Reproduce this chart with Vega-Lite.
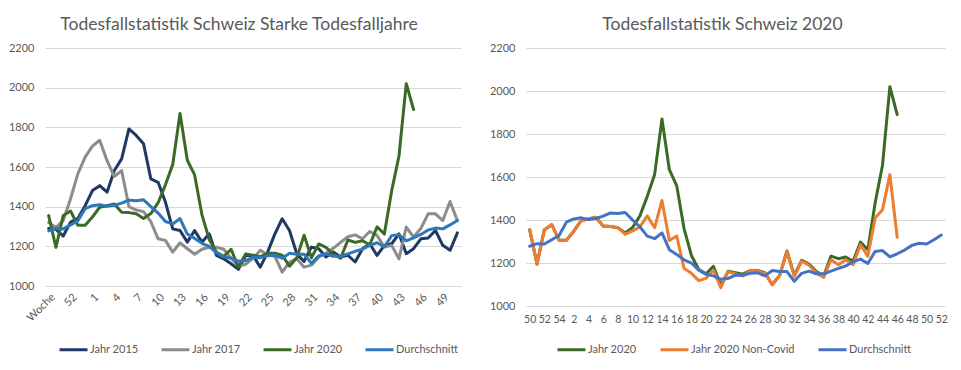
{
"$schema": "https://vega.github.io/schema/vega-lite/v6.json",
"padding": {"left": 8, "top": 15, "right": 0, "bottom": 0},
"background": "white",
"datasets": {"d": [
{"i":0,"s":"Jahr 2015","v":1290},{"i":1,"s":"Jahr 2015","v":1285},{"i":2,"s":"Jahr 2015","v":1252},{"i":3,"s":"Jahr 2015","v":1322},{"i":4,"s":"Jahr 2015","v":1340},{"i":5,"s":"Jahr 2015","v":1405},{"i":6,"s":"Jahr 2015","v":1481},{"i":7,"s":"Jahr 2015","v":1506},{"i":8,"s":"Jahr 2015","v":1473},{"i":9,"s":"Jahr 2015","v":1582},
{"i":10,"s":"Jahr 2015","v":1641},{"i":11,"s":"Jahr 2015","v":1792},{"i":12,"s":"Jahr 2015","v":1759},{"i":13,"s":"Jahr 2015","v":1717},{"i":14,"s":"Jahr 2015","v":1540},{"i":15,"s":"Jahr 2015","v":1523},{"i":16,"s":"Jahr 2015","v":1423},{"i":17,"s":"Jahr 2015","v":1288},{"i":18,"s":"Jahr 2015","v":1280},{"i":19,"s":"Jahr 2015","v":1221},
{"i":20,"s":"Jahr 2015","v":1280},{"i":21,"s":"Jahr 2015","v":1221},{"i":22,"s":"Jahr 2015","v":1263},{"i":23,"s":"Jahr 2015","v":1154},{"i":24,"s":"Jahr 2015","v":1137},{"i":25,"s":"Jahr 2015","v":1112},{"i":26,"s":"Jahr 2015","v":1084},{"i":27,"s":"Jahr 2015","v":1154},{"i":28,"s":"Jahr 2015","v":1154},{"i":29,"s":"Jahr 2015","v":1095},
{"i":30,"s":"Jahr 2015","v":1171},{"i":31,"s":"Jahr 2015","v":1263},{"i":32,"s":"Jahr 2015","v":1339},{"i":33,"s":"Jahr 2015","v":1280},{"i":34,"s":"Jahr 2015","v":1162},{"i":35,"s":"Jahr 2015","v":1124},{"i":36,"s":"Jahr 2015","v":1196},{"i":37,"s":"Jahr 2015","v":1188},{"i":38,"s":"Jahr 2015","v":1146},{"i":39,"s":"Jahr 2015","v":1171},
{"i":40,"s":"Jahr 2015","v":1146},{"i":41,"s":"Jahr 2015","v":1155},{"i":42,"s":"Jahr 2015","v":1121},{"i":43,"s":"Jahr 2015","v":1188},{"i":44,"s":"Jahr 2015","v":1213},{"i":45,"s":"Jahr 2015","v":1154},{"i":46,"s":"Jahr 2015","v":1205},{"i":47,"s":"Jahr 2015","v":1213},{"i":48,"s":"Jahr 2015","v":1263},{"i":49,"s":"Jahr 2015","v":1163},
{"i":50,"s":"Jahr 2015","v":1188},{"i":51,"s":"Jahr 2015","v":1238},{"i":52,"s":"Jahr 2015","v":1242},{"i":53,"s":"Jahr 2015","v":1280},{"i":54,"s":"Jahr 2015","v":1205},{"i":55,"s":"Jahr 2015","v":1180},{"i":56,"s":"Jahr 2015","v":1268},
{"i":0,"s":"Jahr 2017","v":1320},{"i":1,"s":"Jahr 2017","v":1295},{"i":2,"s":"Jahr 2017","v":1330},{"i":3,"s":"Jahr 2017","v":1440},{"i":4,"s":"Jahr 2017","v":1565},{"i":5,"s":"Jahr 2017","v":1650},{"i":6,"s":"Jahr 2017","v":1705},{"i":7,"s":"Jahr 2017","v":1735},{"i":8,"s":"Jahr 2017","v":1632},{"i":9,"s":"Jahr 2017","v":1552},
{"i":10,"s":"Jahr 2017","v":1582},{"i":11,"s":"Jahr 2017","v":1400},{"i":12,"s":"Jahr 2017","v":1383},{"i":13,"s":"Jahr 2017","v":1375},{"i":14,"s":"Jahr 2017","v":1325},{"i":15,"s":"Jahr 2017","v":1238},{"i":16,"s":"Jahr 2017","v":1230},{"i":17,"s":"Jahr 2017","v":1171},{"i":18,"s":"Jahr 2017","v":1218},{"i":19,"s":"Jahr 2017","v":1188},
{"i":20,"s":"Jahr 2017","v":1160},{"i":21,"s":"Jahr 2017","v":1185},{"i":22,"s":"Jahr 2017","v":1195},{"i":23,"s":"Jahr 2017","v":1195},{"i":24,"s":"Jahr 2017","v":1185},{"i":25,"s":"Jahr 2017","v":1140},{"i":26,"s":"Jahr 2017","v":1100},{"i":27,"s":"Jahr 2017","v":1110},{"i":28,"s":"Jahr 2017","v":1140},{"i":29,"s":"Jahr 2017","v":1180},
{"i":30,"s":"Jahr 2017","v":1158},{"i":31,"s":"Jahr 2017","v":1150},{"i":32,"s":"Jahr 2017","v":1070},{"i":33,"s":"Jahr 2017","v":1120},{"i":34,"s":"Jahr 2017","v":1138},{"i":35,"s":"Jahr 2017","v":1095},{"i":36,"s":"Jahr 2017","v":1105},{"i":37,"s":"Jahr 2017","v":1145},{"i":38,"s":"Jahr 2017","v":1165},{"i":39,"s":"Jahr 2017","v":1190},
{"i":40,"s":"Jahr 2017","v":1220},{"i":41,"s":"Jahr 2017","v":1248},{"i":42,"s":"Jahr 2017","v":1258},{"i":43,"s":"Jahr 2017","v":1238},{"i":44,"s":"Jahr 2017","v":1275},{"i":45,"s":"Jahr 2017","v":1255},{"i":46,"s":"Jahr 2017","v":1196},{"i":47,"s":"Jahr 2017","v":1205},{"i":48,"s":"Jahr 2017","v":1137},{"i":49,"s":"Jahr 2017","v":1297},
{"i":50,"s":"Jahr 2017","v":1247},{"i":51,"s":"Jahr 2017","v":1290},{"i":52,"s":"Jahr 2017","v":1364},{"i":53,"s":"Jahr 2017","v":1364},{"i":54,"s":"Jahr 2017","v":1330},{"i":55,"s":"Jahr 2017","v":1426},{"i":56,"s":"Jahr 2017","v":1330},
{"i":0,"s":"Jahr 2020","v":1355},{"i":1,"s":"Jahr 2020","v":1195},{"i":2,"s":"Jahr 2020","v":1355},{"i":3,"s":"Jahr 2020","v":1378},{"i":4,"s":"Jahr 2020","v":1306},{"i":5,"s":"Jahr 2020","v":1306},{"i":6,"s":"Jahr 2020","v":1348},{"i":7,"s":"Jahr 2020","v":1397},{"i":8,"s":"Jahr 2020","v":1405},{"i":9,"s":"Jahr 2020","v":1413},
{"i":10,"s":"Jahr 2020","v":1372},{"i":11,"s":"Jahr 2020","v":1370},{"i":12,"s":"Jahr 2020","v":1364},{"i":13,"s":"Jahr 2020","v":1340},{"i":14,"s":"Jahr 2020","v":1365},{"i":15,"s":"Jahr 2020","v":1420},{"i":16,"s":"Jahr 2020","v":1510},{"i":17,"s":"Jahr 2020","v":1612},{"i":18,"s":"Jahr 2020","v":1870},{"i":19,"s":"Jahr 2020","v":1634},
{"i":20,"s":"Jahr 2020","v":1560},{"i":21,"s":"Jahr 2020","v":1360},{"i":22,"s":"Jahr 2020","v":1235},{"i":23,"s":"Jahr 2020","v":1170},{"i":24,"s":"Jahr 2020","v":1150},{"i":25,"s":"Jahr 2020","v":1185},{"i":26,"s":"Jahr 2020","v":1095},{"i":27,"s":"Jahr 2020","v":1162},{"i":28,"s":"Jahr 2020","v":1155},{"i":29,"s":"Jahr 2020","v":1148},
{"i":30,"s":"Jahr 2020","v":1165},{"i":31,"s":"Jahr 2020","v":1165},{"i":32,"s":"Jahr 2020","v":1155},{"i":33,"s":"Jahr 2020","v":1100},{"i":34,"s":"Jahr 2020","v":1142},{"i":35,"s":"Jahr 2020","v":1256},{"i":36,"s":"Jahr 2020","v":1142},{"i":37,"s":"Jahr 2020","v":1212},{"i":38,"s":"Jahr 2020","v":1195},{"i":39,"s":"Jahr 2020","v":1160},
{"i":40,"s":"Jahr 2020","v":1140},{"i":41,"s":"Jahr 2020","v":1232},{"i":42,"s":"Jahr 2020","v":1220},{"i":43,"s":"Jahr 2020","v":1228},{"i":44,"s":"Jahr 2020","v":1208},{"i":45,"s":"Jahr 2020","v":1298},{"i":46,"s":"Jahr 2020","v":1262},{"i":47,"s":"Jahr 2020","v":1480},{"i":48,"s":"Jahr 2020","v":1655},{"i":49,"s":"Jahr 2020","v":2020},
{"i":50,"s":"Jahr 2020","v":1890},
{"i":0,"s":"Jahr 2020 Non-Covid","v":1355},{"i":1,"s":"Jahr 2020 Non-Covid","v":1195},{"i":2,"s":"Jahr 2020 Non-Covid","v":1355},{"i":3,"s":"Jahr 2020 Non-Covid","v":1378},{"i":4,"s":"Jahr 2020 Non-Covid","v":1306},{"i":5,"s":"Jahr 2020 Non-Covid","v":1306},{"i":6,"s":"Jahr 2020 Non-Covid","v":1348},{"i":7,"s":"Jahr 2020 Non-Covid","v":1397},{"i":8,"s":"Jahr 2020 Non-Covid","v":1405},{"i":9,"s":"Jahr 2020 Non-Covid","v":1413},
{"i":10,"s":"Jahr 2020 Non-Covid","v":1372},{"i":11,"s":"Jahr 2020 Non-Covid","v":1370},{"i":12,"s":"Jahr 2020 Non-Covid","v":1364},{"i":13,"s":"Jahr 2020 Non-Covid","v":1333},{"i":14,"s":"Jahr 2020 Non-Covid","v":1349},{"i":15,"s":"Jahr 2020 Non-Covid","v":1368},{"i":16,"s":"Jahr 2020 Non-Covid","v":1419},{"i":17,"s":"Jahr 2020 Non-Covid","v":1364},{"i":18,"s":"Jahr 2020 Non-Covid","v":1491},{"i":19,"s":"Jahr 2020 Non-Covid","v":1305},
{"i":20,"s":"Jahr 2020 Non-Covid","v":1326},{"i":21,"s":"Jahr 2020 Non-Covid","v":1175},{"i":22,"s":"Jahr 2020 Non-Covid","v":1152},{"i":23,"s":"Jahr 2020 Non-Covid","v":1118},{"i":24,"s":"Jahr 2020 Non-Covid","v":1129},{"i":25,"s":"Jahr 2020 Non-Covid","v":1167},{"i":26,"s":"Jahr 2020 Non-Covid","v":1085},{"i":27,"s":"Jahr 2020 Non-Covid","v":1160},{"i":28,"s":"Jahr 2020 Non-Covid","v":1149},{"i":29,"s":"Jahr 2020 Non-Covid","v":1140},
{"i":30,"s":"Jahr 2020 Non-Covid","v":1164},{"i":31,"s":"Jahr 2020 Non-Covid","v":1164},{"i":32,"s":"Jahr 2020 Non-Covid","v":1152},{"i":33,"s":"Jahr 2020 Non-Covid","v":1098},{"i":34,"s":"Jahr 2020 Non-Covid","v":1140},{"i":35,"s":"Jahr 2020 Non-Covid","v":1253},{"i":36,"s":"Jahr 2020 Non-Covid","v":1138},{"i":37,"s":"Jahr 2020 Non-Covid","v":1208},{"i":38,"s":"Jahr 2020 Non-Covid","v":1190},{"i":39,"s":"Jahr 2020 Non-Covid","v":1153},
{"i":40,"s":"Jahr 2020 Non-Covid","v":1133},{"i":41,"s":"Jahr 2020 Non-Covid","v":1215},{"i":42,"s":"Jahr 2020 Non-Covid","v":1192},{"i":43,"s":"Jahr 2020 Non-Covid","v":1215},{"i":44,"s":"Jahr 2020 Non-Covid","v":1192},{"i":45,"s":"Jahr 2020 Non-Covid","v":1285},{"i":46,"s":"Jahr 2020 Non-Covid","v":1231},{"i":47,"s":"Jahr 2020 Non-Covid","v":1409},{"i":48,"s":"Jahr 2020 Non-Covid","v":1448},{"i":49,"s":"Jahr 2020 Non-Covid","v":1611},
{"i":50,"s":"Jahr 2020 Non-Covid","v":1320},
{"i":0,"s":"Durchschnitt","v":1278},{"i":1,"s":"Durchschnitt","v":1290},{"i":2,"s":"Durchschnitt","v":1288},{"i":3,"s":"Durchschnitt","v":1308},{"i":4,"s":"Durchschnitt","v":1328},{"i":5,"s":"Durchschnitt","v":1390},{"i":6,"s":"Durchschnitt","v":1405},{"i":7,"s":"Durchschnitt","v":1410},{"i":8,"s":"Durchschnitt","v":1402},{"i":9,"s":"Durchschnitt","v":1407},
{"i":10,"s":"Durchschnitt","v":1418},{"i":11,"s":"Durchschnitt","v":1433},{"i":12,"s":"Durchschnitt","v":1430},{"i":13,"s":"Durchschnitt","v":1435},{"i":14,"s":"Durchschnitt","v":1400},{"i":15,"s":"Durchschnitt","v":1368},{"i":16,"s":"Durchschnitt","v":1325},{"i":17,"s":"Durchschnitt","v":1313},{"i":18,"s":"Durchschnitt","v":1340},{"i":19,"s":"Durchschnitt","v":1262},
{"i":20,"s":"Durchschnitt","v":1240},{"i":21,"s":"Durchschnitt","v":1215},{"i":22,"s":"Durchschnitt","v":1200},{"i":23,"s":"Durchschnitt","v":1167},{"i":24,"s":"Durchschnitt","v":1147},{"i":25,"s":"Durchschnitt","v":1140},{"i":26,"s":"Durchschnitt","v":1125},{"i":27,"s":"Durchschnitt","v":1128},{"i":28,"s":"Durchschnitt","v":1144},{"i":29,"s":"Durchschnitt","v":1143},
{"i":30,"s":"Durchschnitt","v":1152},{"i":31,"s":"Durchschnitt","v":1155},{"i":32,"s":"Durchschnitt","v":1140},{"i":33,"s":"Durchschnitt","v":1165},{"i":34,"s":"Durchschnitt","v":1160},{"i":35,"s":"Durchschnitt","v":1160},{"i":36,"s":"Durchschnitt","v":1115},{"i":37,"s":"Durchschnitt","v":1152},{"i":38,"s":"Durchschnitt","v":1162},{"i":39,"s":"Durchschnitt","v":1150},
{"i":40,"s":"Durchschnitt","v":1150},{"i":41,"s":"Durchschnitt","v":1162},{"i":42,"s":"Durchschnitt","v":1175},{"i":43,"s":"Durchschnitt","v":1186},{"i":44,"s":"Durchschnitt","v":1205},{"i":45,"s":"Durchschnitt","v":1218},{"i":46,"s":"Durchschnitt","v":1198},{"i":47,"s":"Durchschnitt","v":1254},{"i":48,"s":"Durchschnitt","v":1258},{"i":49,"s":"Durchschnitt","v":1228},
{"i":50,"s":"Durchschnitt","v":1243},{"i":51,"s":"Durchschnitt","v":1260},{"i":52,"s":"Durchschnitt","v":1282},{"i":53,"s":"Durchschnitt","v":1292},{"i":54,"s":"Durchschnitt","v":1288},{"i":55,"s":"Durchschnitt","v":1308},{"i":56,"s":"Durchschnitt","v":1330}
]},
"data": {"name": "d"},
"spacing": 28,
"resolve": {"scale": {"color": "independent"}, "legend": {"color": "independent"}},
"hconcat": [
{
 "width": 416, "height": 238,
 "title": {"text": "Todesfallstatistik Schweiz Starke Todesfalljahre", "dx": -14},
 "transform": [{"filter": {"field": "s", "oneOf": ["Jahr 2015", "Jahr 2017", "Jahr 2020", "Durchschnitt"]}}],
 "mark": {"type": "line", "strokeWidth": 3, "strokeJoin": "round", "strokeCap": "round"},
 "encoding": {
  "x": {"field": "i", "type": "quantitative", "scale": {"domain": [-0.5, 56.5], "nice": false, "zero": false},
        "axis": {"values": [0,3,6,9,12,15,18,21,24,27,30,33,36,39,42,45,48,51,54], "labelExpr": "datum.value == 0 ? 'Woche' : datum.value == 3 ? '52' : toString(datum.value - 5)", "labelAngle": -45, "labelPadding": 5, "title": null, "grid": false}},
  "y": {"field": "v", "type": "quantitative", "scale": {"domain": [1000, 2200], "nice": false, "zero": false},
        "axis": {"values": [1000,1200,1400,1600,1800,2000,2200], "format": "d", "title": null}},
  "color": {"field": "s", "type": "nominal", "sort": null,
            "scale": {"domain": ["Jahr 2015", "Jahr 2017", "Jahr 2020", "Durchschnitt"], "range": ["#1F3864", "#8C8C8C", "#3B6A26", "#2E78BA"]},
            "legend": {"title": null, "orient": "none", "legendX": 13, "legendY": 286, "direction": "horizontal", "columnPadding": 16}}
 }
},
{
 "width": 419, "height": 258,
 "title": {"text": "Todesfallstatistik Schweiz 2020", "dx": -13},
 "transform": [{"filter": {"field": "s", "oneOf": ["Jahr 2020", "Jahr 2020 Non-Covid", "Durchschnitt"]}}],
 "mark": {"type": "line", "strokeWidth": 3, "strokeJoin": "round", "strokeCap": "round"},
 "encoding": {
  "x": {"field": "i", "type": "quantitative", "scale": {"domain": [-0.5, 56.5], "nice": false, "zero": false},
        "axis": {"values": [0,2,4,6,8,10,12,14,16,18,20,22,24,26,28,30,32,34,36,38,40,42,44,46,48,50,52,54,56], "labelExpr": "datum.value < 5 ? toString(datum.value + 50) : toString(datum.value - 4)", "labelAngle": 0, "labelPadding": 8, "labelFontSize": 10.5, "title": null, "grid": false}},
  "y": {"field": "v", "type": "quantitative", "scale": {"domain": [1000, 2200], "nice": false, "zero": false},
        "axis": {"values": [1000,1200,1400,1600,1800,2000,2200], "format": "d", "title": null}},
  "color": {"field": "s", "type": "nominal", "sort": null,
            "scale": {"domain": ["Jahr 2020", "Jahr 2020 Non-Covid", "Durchschnitt"], "range": ["#3B6A26", "#ED7D31", "#4472C4"]},
            "legend": {"title": null, "orient": "none", "legendX": 30, "legendY": 286, "direction": "horizontal", "columnPadding": 17}}
 }
}
],
"config": {
 "font": "Lato",
 "view": {"stroke": null},
 "axis": {"labelFont": "Lato", "labelFontSize": 11, "labelColor": "#595959", "ticks": false, "domain": false, "gridColor": "#D9D9D9", "gridWidth": 1},
 "axisY": {"labelPadding": 11, "minExtent": 36, "maxExtent": 36},
 "title": {"font": "Lato", "fontSize": 17.5, "fontWeight": "normal", "color": "#595959", "offset": 9, "frame": "group", "anchor": "middle"},
 "legend": {"labelFont": "Lato", "labelFontSize": 11, "labelColor": "#595959", "symbolType": "stroke", "symbolSize": 784, "symbolStrokeWidth": 3, "labelOffset": 1, "padding": 0}
}
}
